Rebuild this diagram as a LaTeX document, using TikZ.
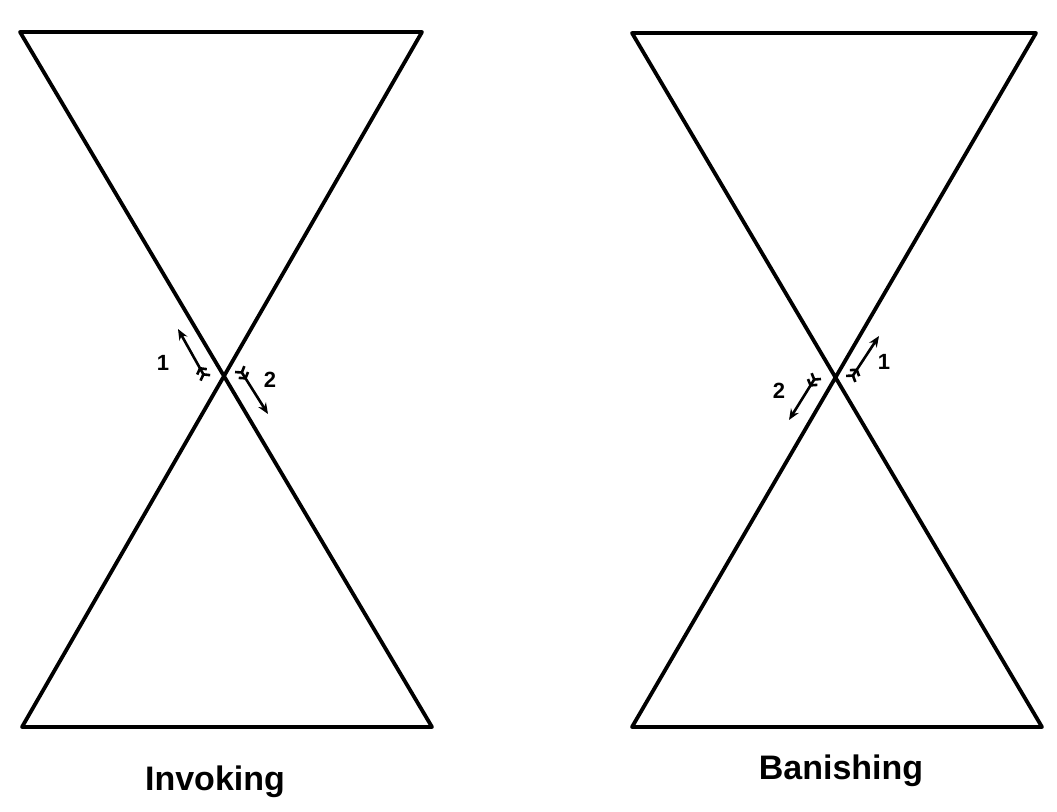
\documentclass[tikz,border=0pt]{standalone}
\usepackage{fontspec}
\setmainfont{Liberation Sans}
\usetikzlibrary{arrows.meta}
\begin{document}
\begin{tikzpicture}[x=1pt,y=-1pt,
  edge/.style={line width=3.8pt,line cap=round,line join=round},
  fletch/.style={line width=2.6pt,{Straight Barb[reversed,length=4pt,width=11pt]Straight Barb[reversed,length=4pt,width=11pt]}-{Stealth[length=11pt,width=9pt]}},
  num/.style={font=\bfseries\fontsize{22}{22}\selectfont},
  title/.style={font=\bfseries\fontsize{34}{34}\selectfont}]
\useasboundingbox (0,0) rectangle (1057,811);
% left hourglass
\coordinate (LTL) at (20,32);
\coordinate (LTR) at (422,32);
\coordinate (LBL) at (22,727);
\coordinate (LBR) at (432,727);
\draw[edge] (LTL) -- (LTR) -- (LBL) -- (LBR) -- cycle;
% right hourglass
\coordinate (RTL) at (632,33);
\coordinate (RTR) at (1036,33);
\coordinate (RBL) at (632,727);
\coordinate (RBR) at (1042,727);
\draw[edge] (RTL) -- (RTR) -- (RBL) -- (RBR) -- cycle;
% left arrows
\coordinate (a1s) at (206,379);
\coordinate (a1e) at (178,329);
\draw[fletch] (a1s) -- (a1e);
\node[num] (n1) at (163,363) {1};
\coordinate (a2s) at (239,368);
\coordinate (a2e) at (268,414);
\draw[fletch] (a2s) -- (a2e);
\node[num] (n2) at (270,380) {2};
% right arrows
\coordinate (b1s) at (850,380);
\coordinate (b1e) at (879,336);
\draw[fletch] (b1s) -- (b1e);
\node[num] (m1) at (884,362) {1};
\coordinate (b2s) at (817,375);
\coordinate (b2e) at (789,420);
\draw[fletch] (b2s) -- (b2e);
\node[num] (m2) at (779,391) {2};
% titles
\node[title] (inv) at (215,782) {Invoking};
\node[title] (ban) at (841,771) {Banishing};
\end{tikzpicture}
\end{document}
